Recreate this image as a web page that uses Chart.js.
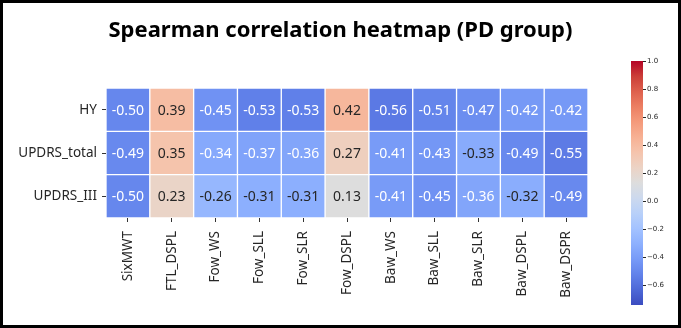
<!DOCTYPE html>
<html><head><meta charset="utf-8">
<script src="https://cdn.jsdelivr.net/npm/chart.js@4.4.0/dist/chart.umd.min.js"></script>
<style>
html,body{margin:0;padding:0;background:#fff;}
#wrap{position:relative;width:681px;height:328px;overflow:hidden;background:#fff;}
#main{position:absolute;left:0;top:0;}
#cbar{position:absolute;left:600px;top:50px;}
#title{position:absolute;left:0;top:13px;width:681px;text-align:center;font:bold 22px/30px "Noto Sans";color:#000;white-space:nowrap;}
#frame{position:absolute;left:0;top:0;width:681px;height:328px;box-sizing:border-box;border:3px solid #000;pointer-events:none;}
</style></head><body>
<div id="wrap">
<canvas id="main" width="681" height="328"></canvas>
<canvas id="cbar" width="81" height="270"></canvas>
<div id="title">Spearman correlation heatmap (PD group)</div>
<div id="frame"></div>
</div>
<script>
const columns = ['SixMWT','FTL_DSPL','Fow_WS','Fow_SLL','Fow_SLR','Fow_DSPL','Baw_WS','Baw_SLL','Baw_SLR','Baw_DSPL','Baw_DSPR'];
const rows = ['HY','UPDRS_total','UPDRS_III'];
const hyValues = [-0.50,0.39,-0.45,-0.53,-0.53,0.42,-0.56,-0.51,-0.47,-0.42,-0.42];
const updrsTotalValues = [-0.49,0.35,-0.34,-0.37,-0.36,0.27,-0.41,-0.43,-0.33,-0.49,-0.55];
const updrsIIIValues = [-0.50,0.23,-0.26,-0.31,-0.31,0.13,-0.41,-0.45,-0.36,-0.32,-0.49];
const colorMin = -0.74;
const colorMax = 1.0;
const colorbarTicks = [-0.6,-0.4,-0.2,0.0,0.2,0.4,0.6,0.8,1.0];

// matplotlib "coolwarm" colormap samples
const cwPos = [0,0.0625,0.125,0.1875,0.25,0.3125,0.375,0.4375,0.5,0.5625,0.625,0.6875,0.75,0.8125,0.875,0.9375,1];
const cwR = [0.2298,0.3039,0.3830,0.4667,0.5530,0.6392,0.7222,0.7987,0.8654,0.9241,0.9589,0.9700,0.9580,0.9239,0.8692,0.7956,0.7057];
const cwG = [0.2987,0.4065,0.5094,0.6046,0.6889,0.7596,0.8140,0.8498,0.8654,0.8274,0.7698,0.6943,0.6028,0.4973,0.3783,0.2413,0.0156];
const cwB = [0.7537,0.8450,0.9174,0.9682,0.9954,0.9982,0.9767,0.9323,0.8654,0.7745,0.6780,0.5794,0.4818,0.3880,0.3003,0.2215,0.1502];

function cmapT(t){
  t = Math.max(0, Math.min(1, t));
  let i = 0;
  while (i < cwPos.length - 2 && t > cwPos[i+1]) i++;
  const f = (t - cwPos[i]) / (cwPos[i+1] - cwPos[i]);
  return [cwR, cwG, cwB].map(a => a[i] + f * (a[i+1] - a[i]));
}
function valueRGB(v){ return cmapT((v - colorMin) / (colorMax - colorMin)); }
function css(rgb){ return 'rgb(' + rgb.map(c => Math.round(c*255)).join(',') + ')'; }
function textColor(v){
  const lin = valueRGB(v).map(c => c <= 0.03928 ? c/12.92 : Math.pow((c+0.055)/1.055, 2.4));
  const lum = 0.2126*lin[0] + 0.7152*lin[1] + 0.0722*lin[2];
  return lum > 0.408 ? 'rgb(38,38,38)' : '#ffffff';
}

const rowValues = [hyValues, updrsTotalValues, updrsIIIValues];

const annotPlugin = {
  id: 'annot',
  afterDatasetsDraw(chart){
    const ctx = chart.ctx;
    ctx.save();
    ctx.font = '14px "Noto Sans"';
    ctx.textAlign = 'center';
    ctx.textBaseline = 'middle';
    chart.data.datasets.forEach((ds, di) => {
      const meta = chart.getDatasetMeta(di);
      meta.data.forEach((el, i) => {
        const v = ds.values[i];
        const p = el.getProps(['x','y','base'], true);
        ctx.fillStyle = textColor(v);
        ctx.fillText(v.toFixed(2), p.x, (p.y + p.base)/2 + 1);
      });
    });
    ctx.restore();
  }
};

new Chart(document.getElementById('main'), {
  type: 'bar',
  data: {
    labels: columns,
    datasets: rowValues.map((vals, r) => ({
      label: rows[r],
      data: vals.map(() => [r, r + 1]),
      values: vals,
      backgroundColor: vals.map(v => css(valueRGB(v))),
      borderColor: '#ffffff',
      borderWidth: 1,
      borderSkipped: false,
      grouped: false,
      barPercentage: 1,
      categoryPercentage: 1
    }))
  },
  options: {
    responsive: false,
    animation: false,
    events: [],
    layout: { padding: { top: 88, right: 93, left: 0, bottom: 0 } },
    plugins: { legend: { display: false }, tooltip: { enabled: false }, title: { display: false } },
    scales: {
      x: {
        type: 'category',
        offset: true,
        grid: { drawOnChartArea: false, drawTicks: true, tickLength: 4, offset: false, color: '#333', lineWidth: 1 },
        border: { display: false },
        ticks: { minRotation: 90, maxRotation: 90, autoSkip: false, padding: 9, color: '#262626', font: { family: 'Noto Sans', size: 13.5 } },
        afterFit(s){ s.height = 110; }
      },
      y: {
        type: 'linear',
        min: 0, max: 3, reverse: true,
        afterBuildTicks(s){ s.ticks = rows.map((_, i) => ({ value: i + 0.5 })); },
        ticks: { callback: (v, i) => rows[i], padding: 5, color: '#262626', font: { family: 'Noto Sans', size: 13.5 } },
        grid: { drawOnChartArea: false, tickLength: 4, color: '#333', lineWidth: 1 },
        border: { display: false },
        afterFit(s){ s.width = 106; }
      }
    }
  },
  plugins: [annotPlugin]
});

new Chart(document.getElementById('cbar'), {
  type: 'bar',
  data: {
    labels: [''],
    datasets: [{
      data: [[colorMin, colorMax]],
      backgroundColor: (c) => {
        const ch = c.chart;
        const ys = ch.scales.y;
        if (!ch.chartArea || !ys) return '#ccc';
        const g = ch.ctx.createLinearGradient(0, ys.getPixelForValue(colorMin), 0, ys.getPixelForValue(colorMax));
        cwPos.forEach((p, i) => g.addColorStop(p, css([cwR[i], cwG[i], cwB[i]])));
        return g;
      },
      borderWidth: 0,
      barPercentage: 1,
      categoryPercentage: 1
    }]
  },
  options: {
    responsive: false,
    animation: false,
    events: [],
    layout: { padding: { left: 31, right: 0, top: 11, bottom: 15 } },
    plugins: { legend: { display: false }, tooltip: { enabled: false } },
    scales: {
      x: { display: false },
      y: {
        position: 'right',
        min: colorMin, max: colorMax,
        afterBuildTicks(s){ s.ticks = colorbarTicks.map(v => ({ value: v })); },
        ticks: { callback: v => (v < -1e-9 ? '\u2212' : '') + Math.abs(v).toFixed(1), padding: 1, color: '#262626', font: { family: 'DejaVu Sans', size: 7 } },
        grid: { drawOnChartArea: false, tickLength: 3, color: '#262626', lineWidth: 1 },
        border: { display: false },
        afterFit(s){ s.width = 38; }
      }
    }
  }
});
</script>
</body></html>
